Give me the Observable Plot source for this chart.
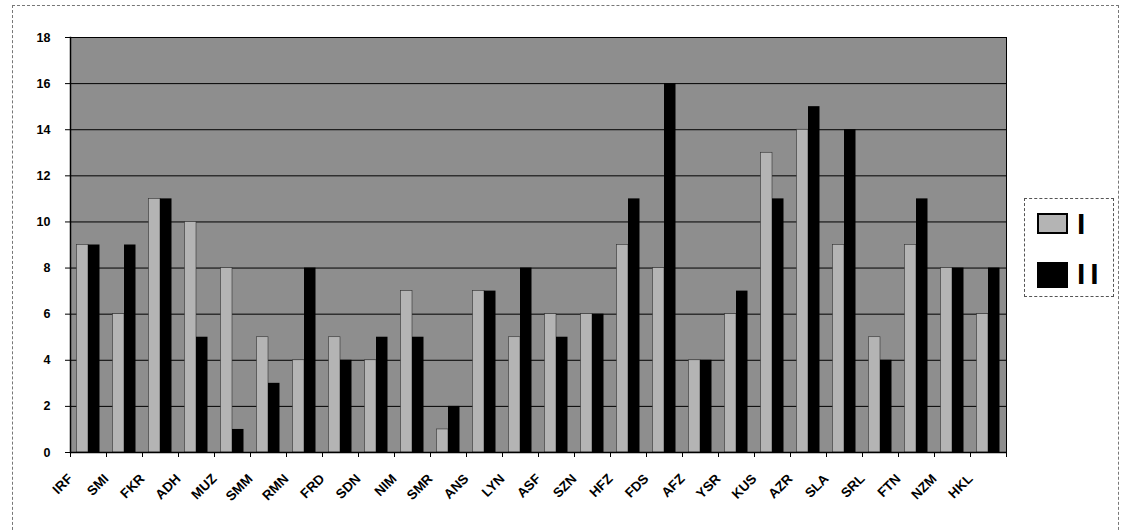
<!DOCTYPE html>
<html>
<head>
<meta charset="utf-8">
<script src="https://cdn.jsdelivr.net/npm/d3@7"></script>
<script src="https://cdn.jsdelivr.net/npm/@observablehq/plot@0.6"></script>
<style>
  html, body { margin: 0; padding: 0; background: #ffffff; }
  #wrap { position: relative; width: 1129px; height: 531px; overflow: hidden; font-family: "Liberation Sans", Arial, sans-serif; }
  #border { position: absolute; left: 12px; top: 5px; width: 1107px; height: 540px; border: 1px dashed #777; box-sizing: border-box; }
  #legend { position: absolute; left: 1024px; top: 198px; width: 90px; height: 99px; border: 1px dashed #555; box-sizing: border-box; background: #fff; }
  .sw { position: absolute; left: 12px; width: 31px; }
  .lab { position: absolute; left: 52px; font-family: "Liberation Sans", Arial, sans-serif; font-weight: bold; font-size: 30px; line-height: 30px; letter-spacing: 5px; color: #000; }
</style>
</head>
<body>
<div id="wrap">
  <div id="border"></div>
  <div id="chart"></div>
  <div id="legend"></div>
</div>
<script>
const categories = ["IRF","SMI","FKR","ADH","MUZ","SMM","RMN","FRD","SDN","NIM","SMR","ANS","LYN","ASF","SZN","HFZ","FDS","AFZ","YSR","KUS","AZR","SLA","SRL","FTN","NZM","HKL"];
const seriesI  = [9, 6, 11, 10, 8, 5, 4, 5, 4, 7, 1, 7, 5, 6, 6, 9, 8, 4, 6, 13, 14, 9, 5, 9, 8, 6];
const seriesII = [9, 9, 11, 5, 1, 3, 8, 4, 5, 5, 2, 7, 8, 5, 6, 11, 16, 4, 7, 11, 15, 14, 4, 11, 8, 8];
const seriesNames = ["I", "II"];
const yTicks = [0, 2, 4, 6, 8, 10, 12, 14, 16, 18];

const colorI = "#b4b4b4";
const colorII = "#000000";
const bg = "#8e8e8e";

const rows = categories.map((c, i) => ({cat: c, I: seriesI[i], II: seriesII[i]}));

const chart = Plot.plot({
  width: 1129,
  height: 531,
  marginLeft: 70,
  marginRight: 123,
  marginTop: 37,
  marginBottom: 79,
  style: {fontFamily: "'Liberation Sans', Arial, sans-serif", fontSize: "12px", fontWeight: "bold", background: "transparent"},
  x: {domain: categories, padding: 0, label: null, axis: null},
  y: {domain: [0, 18], label: null},
  marks: [
    Plot.frame({fill: bg}),
    Plot.gridY(yTicks, {stroke: "#000", strokeOpacity: 1, strokeWidth: 1}),
    Plot.barY(rows, {x: "cat", y: "I", fill: colorI, stroke: "#333", strokeWidth: 0.6, insetLeft: 6.5, insetRight: 18}),
    Plot.barY(rows, {x: "cat", y: "II", fill: colorII, insetLeft: 18, insetRight: 6.5}),
    Plot.ruleY([0], {stroke: "#000", strokeWidth: 1.5}),
    Plot.frame({anchor: "left", stroke: "#000", strokeWidth: 1.5}),
    Plot.frame({anchor: "right", stroke: "#000", strokeWidth: 1}),
    Plot.ruleX(categories, {x: d => d, dx: -18, y1: 0, y2: 0, insetBottom: -5, stroke: "#000"}),
    Plot.ruleX(categories.slice(-1), {x: d => d, dx: 18, y1: 0, y2: 0, insetBottom: -5, stroke: "#000"}),
    Plot.axisY({ticks: yTicks, tickSize: 5, tickPadding: 15, fontSize: 12.5, fontWeight: "bold"}),
    Plot.text(categories, {x: d => d, frameAnchor: "bottom", text: d => d, textAnchor: "end", fontSize: 13.5, fontWeight: "bold", fill: "#000"})
  ]
});
document.getElementById("chart").appendChild(chart);

// lay each category label out along a 45° diagonal, glyph by glyph, each glyph rotated -45°
const c45 = Math.SQRT1_2;
const catSet = new Set(categories);
d3.select(chart).selectAll("text").each(function () {
  const label = this.textContent;
  if (!catSet.has(label)) return;
  let tx = 0, ty = 0;
  const tr = this.getAttribute("transform");
  if (tr) {
    const m = /translate\(\s*([-\d.e]+)[\s,]+([-\d.e]+)\s*\)/.exec(tr);
    if (m) { tx = +m[1]; ty = +m[2]; }
  }
  tx += +(this.getAttribute("x") || 0);
  ty += +(this.getAttribute("y") || 0);
  const widths = [];
  for (let i = 0; i < label.length; i++) {
    let w;
    try { w = this.getSubStringLength(i, 1); } catch (e) { w = 0; }
    widths.push(w > 0 ? w : 9);
  }
  const total = widths.reduce((a, b) => a + b, 0);
  // baseline end point of the rotated label
  const bx = tx - 15, by = ty + 27;
  const sx = bx - total * c45, sy = by + total * c45;
  const xs = [], ys = [];
  let cum = 0;
  for (let i = 0; i < label.length; i++) {
    xs.push((sx + cum * c45).toFixed(2));
    ys.push((sy - cum * c45).toFixed(2));
    cum += widths[i];
  }
  this.removeAttribute("transform");
  this.removeAttribute("dy");
  this.setAttribute("text-anchor", "start");
  this.style.textAnchor = "start";
  this.setAttribute("x", xs.join(" "));
  this.setAttribute("y", ys.join(" "));
  this.setAttribute("rotate", label.split("").map(() => -45).join(" "));
});

const legend = document.getElementById("legend");
const colors = [colorI, colorII];
seriesNames.forEach((name, i) => {
  const sw = document.createElement("div");
  sw.className = "sw";
  sw.style.top = (i === 0 ? 14 : 63) + "px";
  sw.style.height = (i === 0 ? 21 : 26) + "px";
  sw.style.background = colors[i];
  sw.style.border = "2px solid #000";
  sw.style.boxSizing = "border-box";
  legend.appendChild(sw);
  const lb = document.createElement("div");
  lb.className = "lab";
  lb.style.top = (i === 0 ? 10 : 60) + "px";
  lb.textContent = name;
  legend.appendChild(lb);
});
</script>
</body>
</html>
